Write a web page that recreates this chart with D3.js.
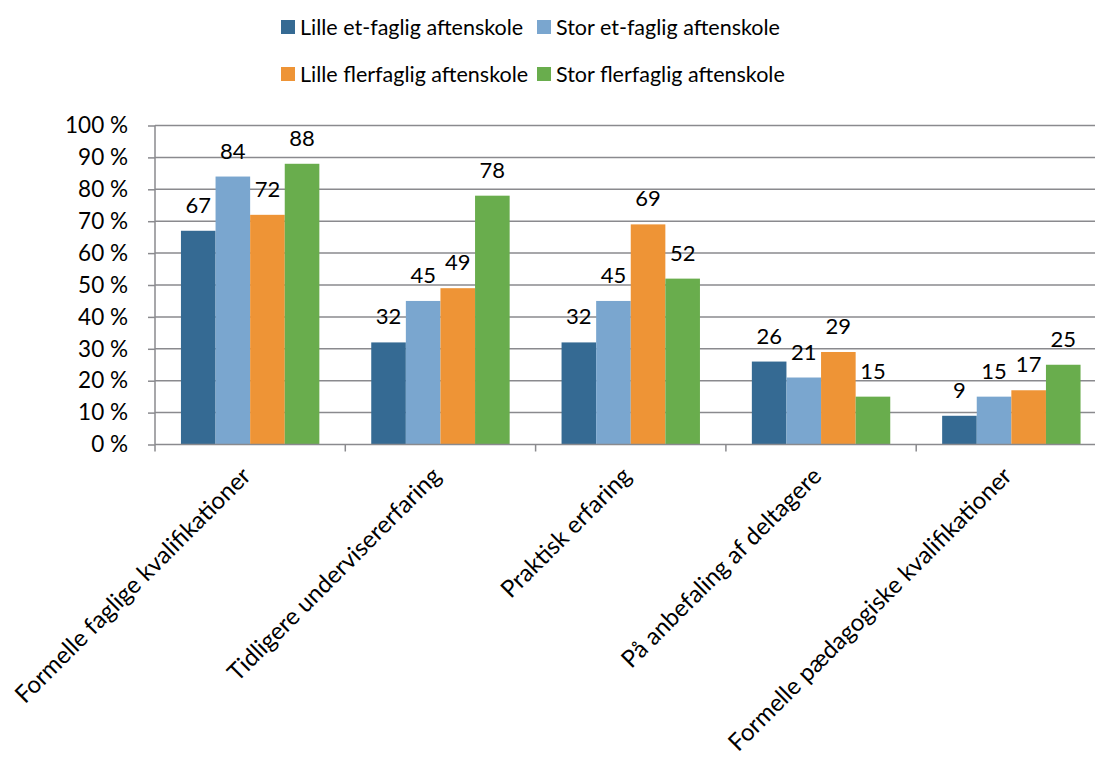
<!DOCTYPE html>
<html>
<head>
<meta charset="utf-8">
<script src="https://cdn.jsdelivr.net/npm/d3@7"></script>
<style>
  body { margin: 0; background: #fff; }
  svg { font-family: Lato, "Open Sans", sans-serif; }
</style>
</head>
<body>
<svg id="drawing_region"></svg>
<script>
const categories = ["Formelle faglige kvalifikationer", "Tidligere undervisererfaring", "Praktisk erfaring", "På anbefaling af deltagere", "Formelle pædagogiske kvalifikationer"];
const seriesNames = ["Lille et-faglig aftenskole", "Stor et-faglig aftenskole", "Lille flerfaglig aftenskole", "Stor flerfaglig aftenskole"];
const lilleEt = [67, 32, 32, 26, 9];
const storEt = [84, 45, 45, 21, 15];
const lilleFler = [72, 49, 69, 29, 17];
const storFler = [88, 78, 52, 15, 25];
const yTicks = [0, 10, 20, 30, 40, 50, 60, 70, 80, 90, 100];
const colors = ["#356a93", "#7aa6cf", "#ee9436", "#69ad4d"];

const series = [lilleEt, storEt, lilleFler, storFler];

const width = 1095, height = 761;
const margin = {top: 125.5, left: 155, bottom: 316.5};

const svg = d3.select('#drawing_region')
    .attr('width', width)
    .attr('height', height);

// plot runs off the right edge of the picture, as in the original
const x0 = d3.scaleBand()
    .domain(categories)
    .range([margin.left, margin.left + 5 * 190.3]);

const x1 = d3.scaleBand()
    .domain(d3.range(seriesNames.length))
    .range([0, x0.bandwidth()])
    .paddingOuter(0.75)
    .paddingInner(0);

const y = d3.scaleLinear()
    .domain([0, 100])
    .range([height - margin.bottom, margin.top]);

// gridlines
svg.append('g')
    .selectAll('line')
    .data(yTicks.filter(d => d > 0))
    .join('line')
    .attr('x1', margin.left)
    .attr('x2', width)
    .attr('y1', d => y(d))
    .attr('y2', d => y(d))
    .attr('stroke', '#8a8a8e')
    .attr('stroke-width', 1.5);

// bars
const groups = svg.append('g')
    .selectAll('g')
    .data(categories)
    .join('g')
    .attr('transform', d => `translate(${x0(d)},0)`);

groups.selectAll('rect')
    .data((c, i) => series.map((s, k) => ({k: k, v: s[i]})))
    .join('rect')
    .attr('x', d => x1(d.k))
    .attr('width', x1.bandwidth())
    .attr('y', d => y(d.v))
    .attr('height', d => y(0) - y(d.v))
    .attr('fill', d => colors[d.k]);

groups.selectAll('text')
    .data((c, i) => series.map((s, k) => ({k: k, v: s[i]})))
    .join('text')
    .attr('x', d => x1(d.k) + x1.bandwidth() / 2)
    .attr('y', d => y(d.v) - 18)
    .attr('text-anchor', 'middle')
    .attr('font-size', '22px')
    .attr('fill', '#000')
    .text(d => d.v);

// y axis
const yaxis = d3.axisLeft(y)
    .tickValues(yTicks)
    .tickSize(7)
    .tickPadding(20)
    .tickFormat(d => d + ' %');

svg.append('g')
    .attr('transform', `translate(${margin.left},0)`)
    .call(yaxis)
    .call(g => g.selectAll('line, path').attr('stroke', '#8a8a8e').attr('stroke-width', 1.5))
    .call(g => g.select('.domain').attr('d', `M0,${y(100)}V${y(0)}`))
    .call(g => g.selectAll('text').attr('font-size', '22.5px').attr('fill', '#000').attr('font-family', 'Lato, sans-serif'));

// x axis
const xaxis_group = svg.append('g')
    .attr('transform', `translate(0,${y(0)})`);

xaxis_group.append('line')
    .attr('x1', margin.left).attr('x2', width)
    .attr('stroke', '#8a8a8e').attr('stroke-width', 1.5);

xaxis_group.selectAll('.tick')
    .data(categories)
    .join('line')
    .attr('class', 'tick')
    .attr('x1', d => x0(d)).attr('x2', d => x0(d))
    .attr('y1', 0).attr('y2', 7)
    .attr('stroke', '#8a8a8e').attr('stroke-width', 1.5);

xaxis_group.selectAll('.label')
    .data(categories)
    .join('text')
    .attr('class', 'label')
    .attr('transform', d => `translate(${x0(d) + x0.bandwidth() / 2 - 4},27) rotate(-45)`)
    .attr('text-anchor', 'end')
    .attr('dy', '0.35em')
    .attr('font-size', '24px')
    .attr('fill', '#000')
    .text(d => d);

// legend
const legendPos = [[281, 20], [537, 20], [281, 67], [537, 67]];
const legend = svg.append('g')
    .selectAll('g')
    .data(seriesNames)
    .join('g')
    .attr('transform', (d, i) => `translate(${legendPos[i][0]},${legendPos[i][1]})`);

legend.append('rect')
    .attr('width', 14).attr('height', 14)
    .attr('fill', (d, i) => colors[i]);

legend.append('text')
    .attr('x', 19)
    .attr('y', 15)
    .attr('font-size', '21.5px')
    .attr('fill', '#000')
    .text(d => d);
</script>
</body>
</html>
